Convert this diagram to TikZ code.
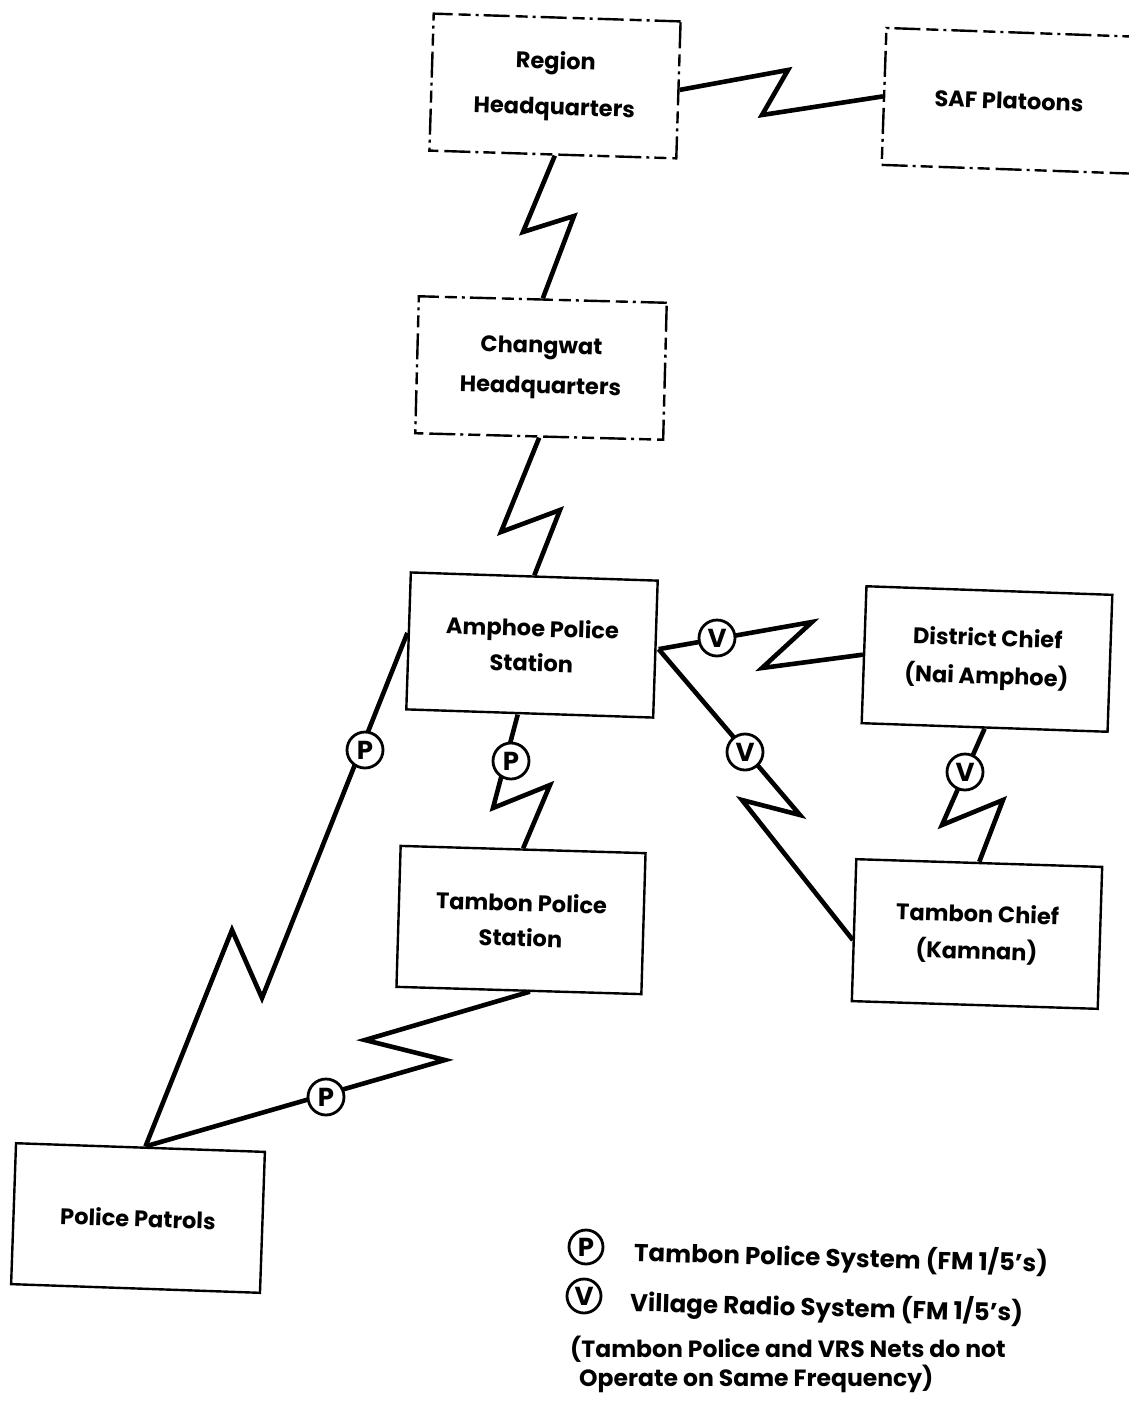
\documentclass[tikz,border=0pt]{standalone}
\usepackage{fontspec}
\setmainfont{Poppins}
\usetikzlibrary{calc}
\begin{document}
\begin{tikzpicture}[x=1pt,y=-1pt,
  box/.style={draw, line width=2.4pt, minimum width=247pt, minimum height=137pt,
    inner sep=0pt, align=center, font=\fontsize{22.5}{36}\selectfont\bfseries},
  dbox/.style={box, dash pattern=on 26pt off 5pt on 3pt off 5pt on 12pt off 6pt},
  zz/.style={line width=4.6pt, line join=miter, miter limit=6},
  sig/.style={circle, draw, line width=2.8pt, fill=white, minimum size=36pt,
    inner sep=0pt, font=\fontsize{26}{26}\selectfont\bfseries},
  leg/.style={anchor=west, inner sep=0pt, align=left, font=\fontsize{24.5}{30}\selectfont\bfseries}
]
\useasboundingbox (0,0) rectangle (1129,1401);
\begin{scope}
\clip (0,0) rectangle (1129,1401);
% boxes
\node[dbox, rotate=-1.8, font=\fontsize{22.5}{46}\selectfont\bfseries] (rhq) at (555,86) {Region\\Headquarters};
\node[dbox, rotate=-2, minimum width=262pt] (saf) at (1015,101) {\hspace*{-12pt}SAF Platoons};
\node[dbox, rotate=-1.5, minimum width=248pt, font=\fontsize{22.5}{40}\selectfont\bfseries] (cw) at (541,368) {Changwat\\Headquarters};
\node[box, rotate=-1.9, font=\fontsize{22.5}{35}\selectfont\bfseries] (ap) at (532,645) {Amphoe Police\\Station};
\node[box, rotate=-2, minimum width=246pt, font=\fontsize{22.5}{38}\selectfont\bfseries] (dc) at (987,659) {District Chief\\(Nai Amphoe)};
\node[box, rotate=-1.7, minimum width=245pt, minimum height=141pt, font=\fontsize{22.5}{35}\selectfont\bfseries] (tp) at (521,920) {Tambon Police\\Station};
\node[box, rotate=-1.8, minimum width=246pt, minimum height=142pt, font=\fontsize{22.5}{37}\selectfont\bfseries] (tc) at (977,934) {Tambon Chief\\(Kamnan)};
\node[box, rotate=-2, minimum width=249pt, minimum height=141pt] (pp) at (138,1218) {Police Patrols};
\end{scope}
% connectors
\draw[zz] (rhq.east) -- (788,70) -- (762,115) -- (saf.west);
\draw[zz] ([xshift=2pt]rhq.south) -- (523,232) -- (574,216) -- (cw.north);
\draw[zz] (cw.south) -- (501,532) -- (560,510) -- (ap.north);
\draw[zz] ([xshift=2pt]ap.east) -- (812,622) -- (762,668) -- (dc.west);
\draw[zz] ([xshift=2pt]ap.east) -- (800,815) -- (742,800) -- ([yshift=-10pt]tc.west);
\draw[zz] (dc.south) -- (942,825) -- (1003,800) -- (tc.north);
\draw[zz] ([xshift=-12pt]ap.south) -- (493,808) -- (550,785) -- (tp.north);
\draw[zz] ([yshift=8pt]ap.west) -- (262,998) -- (232,930) -- ([xshift=5pt]pp.north);
\draw[zz] ([xshift=11pt]tp.south) -- (365,1040) -- (445,1060) -- ([xshift=5pt]pp.north);
% system markers
\node[sig] (p1) at (365,750) {P};
\node[sig] (p2) at (511,761) {P};
\node[sig] (p3) at (326,1097) {P};
\node[sig] (v1) at (717,638) {V};
\node[sig] (v2) at (745,752) {V};
\node[sig] (v3) at (965,772) {V};
% legend
\node[sig, minimum size=34pt] (lp) at (586,1247) {P};
\node[sig, minimum size=34pt] (lv) at (584,1296) {V};
\node[leg, rotate=-1.5] (lpt) at (634,1253) {Tambon Police System (FM 1/5's)};
\node[leg, rotate=-1.5] (lvt) at (630,1303) {Village Radio System (FM 1/5's)};
\node[leg, font=\fontsize{23.5}{29}\selectfont\bfseries] (note) at (570,1364) {(Tambon Police and VRS Nets do not\\\hspace*{9pt}Operate on Same Frequency)};
\end{tikzpicture}
\end{document}
